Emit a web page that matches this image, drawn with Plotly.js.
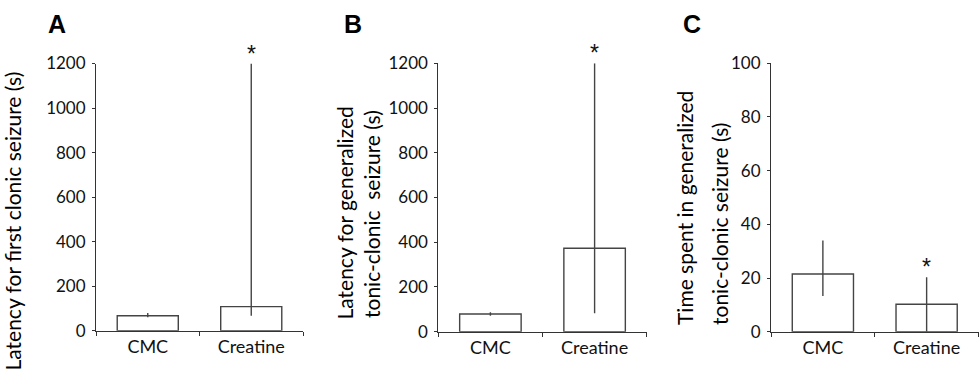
<!DOCTYPE html>
<html>
<head>
<meta charset="utf-8">
<script src="https://cdn.plot.ly/plotly-3.0.1.min.js"></script>
<style>html,body{margin:0;padding:0;background:#fff;}#chart{width:979px;height:373px;}</style>
</head>
<body>
<div id="chart"></div>
<script>
// ---- data ----
var groups = ['CMC', 'Creatine'];
// Panel A: latency for first clonic seizure (s)
var firstClonic = [67, 108];
var firstClonicErrPlus = [13, 1092];
var firstClonicErrMinus = [7, 41];
// Panel B: latency for generalized tonic-clonic seizure (s)
var genTonicLatency = [79, 373];
var genTonicLatencyErrPlus = [8, 827];
var genTonicLatencyErrMinus = [8, 291];
// Panel C: time spent in generalized tonic-clonic seizure (s)
var genTonicTime = [21.5, 10.2];
var genTonicTimeErrPlus = [12.5, 10.1];
var genTonicTimeErrMinus = [8.2, 10.2];
// significance markers
var sigLabels = ['', '*'];
var panelLetters = ['A', 'B', 'C'];
var yTickValsLatency = [0, 200, 400, 600, 800, 1000, 1200];
var yTickValsTime = [0, 20, 40, 60, 80, 100];

var W = 979, H = 373;
function px(x) { return x / W; }
function py(y) { return 1 - y / H; }

function barTrace(vals, ep, em, xa, ya) {
  return {
    type: 'bar', x: groups, y: vals, xaxis: xa, yaxis: ya,
    width: 0.59,
    marker: {color: '#ffffff', line: {color: '#444444', width: 1.4}},
    error_y: {type: 'data', symmetric: false, array: ep, arrayminus: em,
              color: '#444444', thickness: 1.4, width: 0},
    hoverinfo: 'skip', showlegend: false
  };
}

var data = [
  barTrace(firstClonic, firstClonicErrPlus, firstClonicErrMinus, 'x', 'y'),
  barTrace(genTonicLatency, genTonicLatencyErrPlus, genTonicLatencyErrMinus, 'x2', 'y2'),
  barTrace(genTonicTime, genTonicTimeErrPlus, genTonicTimeErrMinus, 'x3', 'y3')
];

var xTickFont = {family: 'Lato, sans-serif', size: 18, color: '#111'};
var yTickFont = {family: 'Lato, sans-serif', size: 17, color: '#111'};
function xAxis(domain, anchor) {
  return {
    domain: domain, anchor: anchor, type: 'category', range: [-0.5, 1.5],
    showline: true, linecolor: '#333', linewidth: 1,
    ticks: 'outside', tickson: 'boundaries', ticklen: 4, tickcolor: '#333',
    showgrid: false, zeroline: false, tickfont: xTickFont, fixedrange: true
  };
}
function yAxis(domain, anchor, range, tv) {
  return {
    domain: domain, anchor: anchor, range: range, tickvals: tv,
    showline: true, linecolor: '#333', linewidth: 1,
    ticks: 'outside', ticklen: 3, tickcolor: '#333',
    ticklabelstandoff: 3,
    showgrid: false, zeroline: false, tickfont: yTickFont, fixedrange: true
  };
}

var titleFont = {family: 'Lato, sans-serif', size: 21, color: '#000'};
var annotations = [];
// axis titles (rotated)
function rotTitle(text, xc, ybottom) {
  annotations.push({text: text, xref: 'paper', yref: 'paper', x: px(xc), y: py(ybottom),
    xanchor: 'center', yanchor: 'bottom', textangle: -90, showarrow: false, font: titleFont});
}
rotTitle('Latency for first clonic seizure (s)', 12, 373);
rotTitle('Latency for generalized', 344, 322);
rotTitle('tonic-clonic&nbsp;&nbsp;seizure (s)', 371, 320);
rotTitle('Time spent in generalized', 684, 327);
rotTitle('tonic-clonic seizure (s)', 719, 327);

// panel letters
var letterX = [57, 353, 692];
panelLetters.forEach(function (L, i) {
  annotations.push({text: '<b>' + L + '</b>', xref: 'paper', yref: 'paper', x: px(letterX[i]), y: py(24),
    xanchor: 'center', yanchor: 'middle', showarrow: false,
    font: {family: 'Liberation Sans, Arial, sans-serif', size: 25, color: '#000'}});
});

// significance asterisks above error bars
var sets = [
  [firstClonic, firstClonicErrPlus, 'x', 'y'],
  [genTonicLatency, genTonicLatencyErrPlus, 'x2', 'y2'],
  [genTonicTime, genTonicTimeErrPlus, 'x3', 'y3']
];
sets.forEach(function (s) {
  groups.forEach(function (g, i) {
    if (!sigLabels[i]) return;
    annotations.push({text: sigLabels[i], xref: s[2], yref: s[3], x: g, y: s[0][i] + s[1][i],
      xanchor: 'center', yanchor: 'bottom', showarrow: false, yshift: -5,
      font: {family: 'Liberation Sans, Arial, sans-serif', size: 23, color: '#111'}});
  });
});

var layout = {
  width: W, height: H,
  margin: {l: 0, r: 0, t: 0, b: 0},
  paper_bgcolor: '#fff', plot_bgcolor: '#fff',
  showlegend: false,
  xaxis: xAxis([px(96), px(303)], 'y'),
  yaxis: yAxis([py(330.7), py(63.5)], 'x', [0, 1200], yTickValsLatency),
  xaxis2: xAxis([px(438.3), px(646.7)], 'y2'),
  yaxis2: yAxis([py(331.7), py(63.3)], 'x2', [0, 1200], yTickValsLatency),
  xaxis3: xAxis([px(771), px(978.5)], 'y3'),
  yaxis3: yAxis([py(331.7), py(63.3)], 'x3', [0, 100], yTickValsTime),
  annotations: annotations
};

Plotly.newPlot('chart', data, layout, {displayModeBar: false, staticPlot: true});
</script>
</body>
</html>
